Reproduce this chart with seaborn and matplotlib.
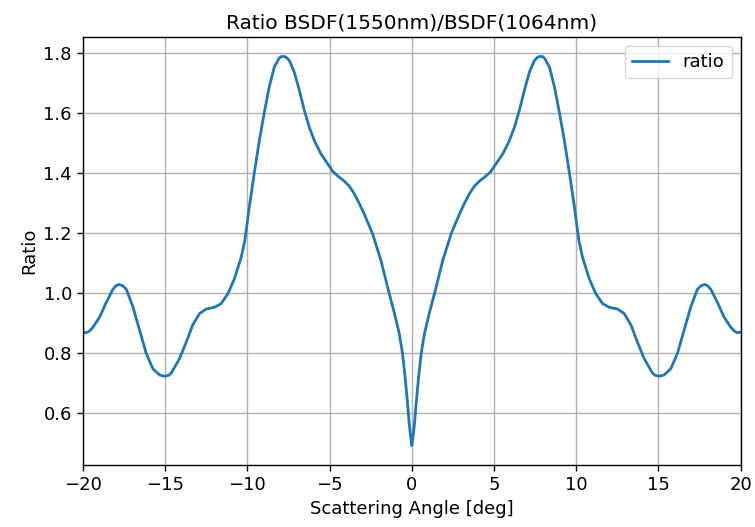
import matplotlib
matplotlib.use("Agg")
import matplotlib.pyplot as plt
import seaborn as sns
import pandas as pd

angle_left = [-20.0, -19.8, -19.6, -19.39, -18.99, -18.58, -18.18, -18.0, -17.83, -17.6,
              -17.37, -16.96, -16.56, -16.15, -15.75, -15.34, -15.04, -14.8, -14.63, -14.13,
              -13.72, -13.32, -12.91, -12.51, -12.0, -11.6, -11.19, -10.79, -10.38, -10.16,
              -9.89, -9.59, -9.28, -8.98, -8.68, -8.37, -8.07, -7.95, -7.8, -7.65,
              -7.45, -7.15, -6.84, -6.54, -6.24, -5.93, -5.53, -5.12, -4.8, -4.5,
              -4.11, -3.8, -3.5, -3.2, -2.9, -2.39, -1.88, -1.42, -1.07, -0.77, -0.57, -0.41,
              -0.26, -0.16, -0.08, 0.0]
ratio_left = [0.870, 0.868, 0.874, 0.887, 0.920, 0.970, 1.013, 1.024, 1.029, 1.025,
              1.013, 0.953, 0.876, 0.798, 0.748, 0.727, 0.723, 0.726, 0.734, 0.782,
              0.837, 0.895, 0.932, 0.947, 0.953, 0.965, 0.998, 1.048, 1.120, 1.175,
              1.286, 1.398, 1.508, 1.600, 1.686, 1.753, 1.783, 1.788, 1.789, 1.786,
              1.775, 1.736, 1.675, 1.609, 1.553, 1.508, 1.464, 1.431, 1.405, 1.390,
              1.373, 1.356, 1.331, 1.299, 1.264, 1.198, 1.109, 1.008, 0.935, 0.866, 0.800, 0.720,
              0.631, 0.565, 0.525, 0.492]

angle_right = [0.08, 0.16, 0.26, 0.41, 0.57, 0.77, 1.07, 1.42, 1.88, 2.39,
               2.9, 3.2, 3.5, 3.8, 4.11, 4.5, 4.8, 5.12, 5.53, 5.93, 6.24, 6.54,
               6.84, 7.15, 7.45, 7.65, 7.8, 7.95, 8.07, 8.37, 8.68, 8.98,
               9.28, 9.59, 9.89, 10.16, 10.38, 10.79, 11.19, 11.6, 12.0, 12.51,
               12.91, 13.32, 13.72, 14.13, 14.63, 14.8, 15.04, 15.34, 15.75, 16.15,
               16.56, 16.96, 17.37, 17.6, 17.83, 18.0, 18.18, 18.58, 18.99, 19.39,
               19.6, 19.8, 20.0]
ratio_right = [0.525, 0.565, 0.631, 0.720, 0.800, 0.866, 0.935, 1.008, 1.109, 1.198,
               1.264, 1.299, 1.331, 1.356, 1.373, 1.390, 1.405, 1.431, 1.464, 1.508, 1.553, 1.609,
               1.675, 1.736, 1.775, 1.786, 1.789, 1.788, 1.783, 1.753, 1.686, 1.600,
               1.508, 1.398, 1.286, 1.175, 1.120, 1.048, 0.998, 0.965, 0.953, 0.947,
               0.932, 0.895, 0.837, 0.782, 0.734, 0.726, 0.723, 0.727, 0.748, 0.798,
               0.876, 0.953, 1.013, 1.025, 1.029, 1.024, 1.013, 0.970, 0.920, 0.887,
               0.874, 0.868, 0.870]

x_ticks = [-20, -15, -10, -5, 0, 5, 10, 15, 20]
y_ticks = [0.6, 0.8, 1.0, 1.2, 1.4, 1.6, 1.8]

df = pd.DataFrame({"angle": angle_left + angle_right,
                   "ratio": ratio_left + ratio_right})

plt.rcParams.update({
    "font.family": ["DejaVu Sans"],
    "axes.linewidth": 1.0,
    "xtick.major.size": 4.5,
    "ytick.major.size": 4.5,
    "xtick.major.width": 1.0,
    "ytick.major.width": 1.0,
    "lines.solid_joinstyle": "round",
})

fig = plt.figure(figsize=(7.55, 5.27), dpi=100)
ax = fig.add_axes([0.110, 0.1176, 0.871, 0.8124])

sns.lineplot(data=df, x="angle", y="ratio", ax=ax, color="#1f77b4",
             linewidth=2.0, label="ratio", sort=False)

ax.set_xlim(-20, 20)
ax.set_xticks(x_ticks)
ax.set_yticks(y_ticks)
ax.set_yticklabels([f"{v:.1f}" for v in y_ticks])
ax.tick_params(labelsize=13)
ax.grid(True, color="#b0b0b0", linewidth=1.0)
ax.set_axisbelow(True)
ax.set_xlabel("Scattering Angle [deg]", fontsize=13)
ax.set_ylabel("Ratio", fontsize=13)
ax.set_title("Ratio BSDF(1550nm)/BSDF(1064nm)", fontsize=14.5)
ax.legend(loc="upper right", fontsize=13)

fig.savefig("out.png", dpi=100)
